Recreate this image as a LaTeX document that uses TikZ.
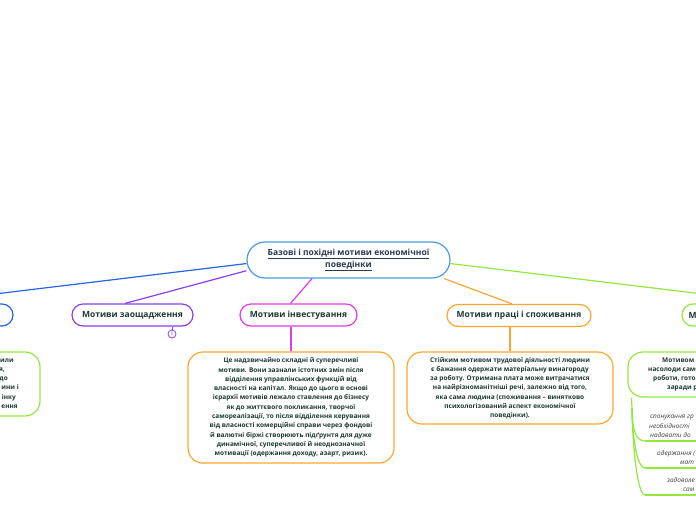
\documentclass[tikz,border=0pt]{standalone}
\usepackage{fontspec}
\setmainfont{Open Sans}
\usetikzlibrary{positioning}
\definecolor{titleblue}{HTML}{4A9BE0}
\definecolor{linkblue}{HTML}{2563E8}
\definecolor{savepurple}{HTML}{8A3FF0}
\definecolor{investpink}{HTML}{E23BE6}
\definecolor{workorange}{HTML}{FBA631}
\definecolor{limegreen}{HTML}{92E83E}
\definecolor{inkgreen}{HTML}{1D3A32}
\definecolor{inknavy}{HTML}{2B3A55}
\definecolor{notegray}{HTML}{3C3C3C}
\begin{document}
\begin{tikzpicture}[x=1pt,y=-1pt,
    topic/.style={draw, line width=1.2pt, fill=white, rounded corners=11pt,
      minimum width=121pt, minimum height=22pt, inner sep=0pt,
      font=\fontsize{8.5}{10}\selectfont\bfseries, text=inkgreen},
    detail/.style={draw, line width=1.2pt, fill=white, rounded corners=15pt,
      minimum width=206pt, inner sep=0pt, align=center,
      font=\fontsize{6.5}{9.3}\selectfont\bfseries, text=inkgreen},
    fragment/.style={inner sep=0pt, text height=4.7pt, text depth=1.4pt,
      font=\fontsize{6.5}{9.3}\selectfont\bfseries, text=inkgreen},
    note/.style={inner sep=0pt, align=left, font=\fontsize{6.5}{9.5}\selectfont\itshape, text=notegray},
    branch/.style={line width=1.2pt}]
   \useasboundingbox (0,0) rectangle (696,520);
   \clip (0,0) rectangle (696,520);
   \fill[white] (0,0) rectangle (696,520);

   % central topic and first level
   \node[topic, draw=titleblue, rounded corners=18pt, minimum width=203pt, minimum height=36pt,
     align=center, text=inknavy, font=\fontsize{8.5}{12}\selectfont\bfseries] (ctr) at (348.5,260)
     {\underline{Базові і похідні мотиви економічної}\\\underline{поведінки}};
   \node[topic, draw=linkblue, minimum width=192pt] (lft) at (-83,315) {};
   \node[topic, draw=savepurple] (sav) at (132.5,315) {Мотиви заощадження};
   \node[topic, draw=investpink, minimum width=117pt] (inv) at (298.5,315) {Мотиви інвестування};
   \node[topic, draw=workorange, minimum width=144pt] (lab) at (519,315.5) {Мотиви праці і споживання};
   \node[topic, draw=limegreen, minimum width=198pt] (rgt) at (781,315) {};
   \node[topic, draw=none, fill=none, minimum width=0pt, anchor=west] (rgtname) at (688,315) {М};
   \node[circle, draw=savepurple, line width=0.8pt, fill=white, minimum size=8pt, inner sep=0pt,
     font=\fontsize{4}{4}\selectfont, text=savepurple] (cnt) at (172,334) {5};

   \draw[branch, linkblue] (ctr.182) -- (lft.north);
   \draw[branch, savepurple] (ctr.186) -- ([xshift=-7.5]sav.north);
   \draw[branch, investpink] (ctr.207) -- ([xshift=-8]inv.north);
   \draw[branch, workorange] (ctr.-11) -- ([xshift=-7]lab.north);
   \draw[branch, limegreen] (ctr.-2) -- (rgt.north);
   \draw[savepurple, line width=0.8pt] (cnt.north) -- (cnt.north |- sav.south);

   % second level
   \node[detail, draw=limegreen, minimum height=64pt] (lftnote) at (-63,384) {};
   \node[detail, draw=workorange, minimum height=111pt] (invnote) at (291,407.5)
     {Це надзвичайно складні й суперечливі\\
      мотиви. Вони зазнали істотних змін після\\
      відділення управлінських функцій від\\
      власності на капітал. Якщо до цього в основі\\
      ієрархії мотивів лежало ставлення до бізнесу\\
      як до життєвого покликання, творчої\\
      самореалізації, то після відділення керування\\
      від власності комерційні справи через фондові\\
      й валютні біржі створюють підґрунтя для дуже\\
      динамічної, суперечливої й неоднозначної\\
      мотивації (одержання доходу, азарт, ризик).};
   \node[detail, draw=workorange, minimum height=72pt] (labnote) at (510,388)
     {Стійким мотивом трудової діяльності людини\\
      є бажання одержати матеріальну винагороду\\
      за роботу. Отримана плата може витрачатися\\
      на найрізноманітніші речі, залежно від того,\\
      яка сама людина (споживання – винятково\\
      психологізований аспект економічної\\
      поведінки).};
   \node[detail, draw=limegreen, minimum height=45pt] (rgtnote) at (731,374.5) {};

   % cut-off lines at the page edges
   \foreach \txt/\xr/\yc [count=\i] in {или/14/361, {я,}/5/370, до/8/379, {ини і}/19/388, інку/16/398, ення/18/407}
     \node[fragment, anchor=east] (lftline\i) at (\xr,\yc) {\txt};
   \foreach \txt/\xl/\yc [count=\i] in {{Мотивом м}/662/361, {насолоди само}/648/370, {роботи, готов}/653/379, {заради р}/667/388}
     \node[fragment, anchor=west] (rgtline\i) at (\xl,\yc) {\txt};

   \draw[branch, limegreen] (lftnote.north) -- (lftnote.north |- lft.south);
   \draw[branch, investpink] (invnote.north) -- (invnote.north |- inv.south);
   \draw[branch, workorange] (labnote.north) -- (labnote.north |- lab.south);
   \draw[branch, limegreen] (rgtnote.north) -- (rgtnote.north |- rgt.south);

   % third level
   \node[note, anchor=south west] (spur) at (645,438)
     {\hspace*{5pt}спонукання гр\\\hspace*{4pt}необхідності\\\hspace*{5pt}надавати до};
   \node[note, anchor=south west] (gain) at (645,465)
     {\hspace*{12pt}одержання (\\\hspace*{35pt}мат};
   \node[note, anchor=south west] (joy) at (645,492)
     {\hspace*{22pt}задоволе\\\hspace*{38pt}сам};
   \coordinate (fork) at (632,408);

   \draw[branch, limegreen] ([xshift=4]rgtnote.south west) -- (fork);
   \foreach \leaf in {spur,gain,joy}{
     \draw[branch, limegreen] (fork) .. controls +(0,22) and +(-9,0) .. ([yshift=-3]\leaf.south west);
     \draw[branch, limegreen] ([yshift=-3]\leaf.south west) -- ([yshift=-3]\leaf.south west -| rgtnote.east);
   }
\end{tikzpicture}
\end{document}
